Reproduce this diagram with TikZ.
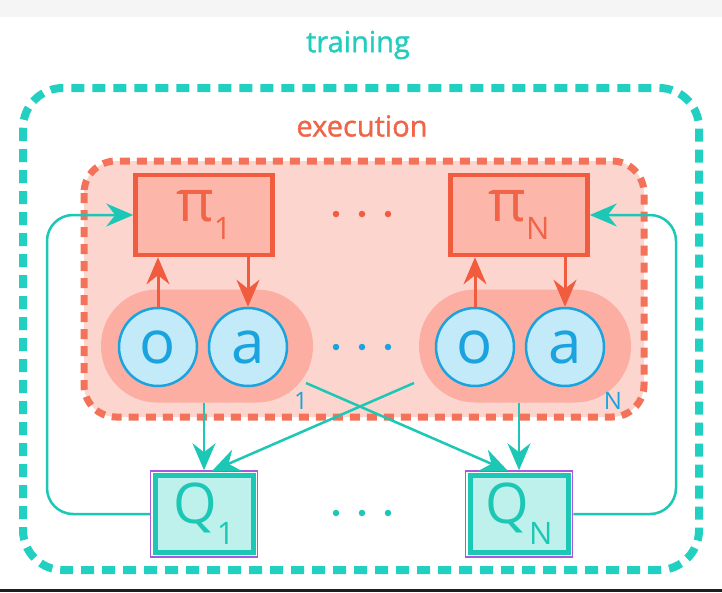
\documentclass[tikz,border=0pt]{standalone}
\usepackage{fontspec}
\setmainfont{Open Sans}
\newfontfamily\semifont{Open Sans}[FakeBold=1.2]
\usetikzlibrary{arrows.meta,calc}
\definecolor{tealtxt}{HTML}{22CDBE}
\definecolor{tealdash}{HTML}{22D0C2}
\definecolor{tealline}{HTML}{1CC8B5}
\definecolor{coraltxt}{HTML}{F06448}
\definecolor{coraldash}{HTML}{F4725A}
\definecolor{coralbox}{HTML}{F25C3E}
\definecolor{execfill}{HTML}{FDD5CF}
\definecolor{boxfill}{HTML}{FCB6AA}
\definecolor{pillfill}{HTML}{FBAEA1}
\definecolor{circfill}{HTML}{C3EAF8}
\definecolor{circline}{HTML}{1AA3DE}
\definecolor{qfill}{HTML}{BEF1EC}
\definecolor{qpurple}{HTML}{A35BE0}
\definecolor{topgray}{HTML}{F5F5F5}
\tikzset{
  outerframe/.style={draw=tealdash, line width=8pt, dash pattern=on 13pt off 8pt, rounded corners=40pt},
  execframe/.style={draw=coraldash, fill=execfill, line width=7pt, dash pattern=on 10pt off 7pt, rounded corners=32pt},
  pill/.style={fill=pillfill, rounded corners=56pt, minimum width=212pt, minimum height=113pt, inner sep=0pt},
  circ/.style={circle, draw=circline, line width=2.5pt, fill=circfill, minimum size=78pt, inner sep=0pt,
    text=circline, font=\fontsize{60}{60}\selectfont},
  pibox/.style={draw=coralbox, line width=4.5pt, fill=boxfill, minimum width=137pt, minimum height=80pt,
    inner sep=0pt, text=coraltxt},
  qouter/.style={draw=qpurple, line width=1.5pt, minimum width=107pt, minimum height=86pt, inner sep=0pt},
  qinner/.style={draw=tealline, line width=5pt, fill=qfill, minimum width=98pt, minimum height=77pt,
    inner sep=0pt, text=tealline},
  carrow/.style={draw=coralbox, line width=3pt, -{Stealth[length=27pt,width=23pt,inset=9pt]}},
  tarrow/.style={draw=tealline, line width=2.5pt, -{Stealth[length=27pt,width=23pt,inset=9pt]}},
  dotc/.style={circle, fill=#1, minimum size=6.5pt, inner sep=0pt},
}
\begin{document}
\begin{tikzpicture}[x=1pt,y=-1pt]
\useasboundingbox (0,0) rectangle (722,592);
\fill[white] (0,0) rectangle (722,592);
\fill[topgray] (0,0) rectangle (722,17);
\fill[black!88] (0,589) rectangle (722,592);

% frames
\draw[outerframe] (23,88) rectangle (699,570);
\node[text=tealtxt, font=\semifont\fontsize{29}{29}\selectfont] (training) at (358,45) {training};
\draw[execframe] (84,161) rectangle (644,417);
\node[text=coraltxt, font=\semifont\fontsize{29}{29}\selectfont] (execution) at (362,126) {execution};

% agent groups
\node[pill] (g1) at (207,346) {};
\node[pill] (gN) at (525,346) {};
\node[circ] (o1) at (158,347) {o};
\node[circ] (a1) at (248,347) {a};
\node[circ] (oN) at (475,347) {o};
\node[circ] (aN) at (565,347) {a};
\node[text=circline, font=\fontsize{24}{24}\selectfont] (l1) at (301,401) {1};
\node[text=circline, font=\fontsize{24}{24}\selectfont] (lN) at (613,401) {N};

% policies
\node[pibox] (p1) at (204,215) {\fontsize{58}{58}\selectfont π\raisebox{-18pt}{\fontsize{31}{31}\selectfont 1}};
\node[pibox] (pN) at (519,215) {\fontsize{58}{58}\selectfont π\raisebox{-18pt}{\fontsize{31}{31}\selectfont N}};

% dots
\foreach \i/\x in {1/336,2/362,3/388} {
  \node[dotc=coralbox] (cd\i) at (\x,214) {};
  \node[dotc=circline] (bd\i) at (\x,347) {};
  \node[dotc=tealline] (td\i) at (\x,513) {};
}

% coral arrows
\draw[carrow] (o1.north) -- (o1.north |- p1.south);
\draw[carrow] (a1.north |- p1.south) -- (a1.north);
\draw[carrow] (oN.north) -- (oN.north |- pN.south);
\draw[carrow] (aN.north |- pN.south) -- (aN.north);

% critics
\node[qouter] (q1o) at (204,514) {};
\node[qinner] (q1) at (204,514) {\fontsize{56}{56}\selectfont Q\raisebox{-21pt}{\fontsize{31}{31}\selectfont 1}};
\node[qouter] (qNo) at (519,514) {};
\node[qinner] (qN) at (519,514) {\fontsize{56}{56}\selectfont Q\raisebox{-21pt}{\fontsize{31}{31}\selectfont N}};

% teal connectors
\coordinate (c1) at (306,383);
\coordinate (cN) at (414,383);
\coordinate (e1) at (212,471);
\coordinate (eN) at (508,471);
\draw[tarrow] (q1o.north |- g1.south) -- (q1o.north);
\draw[tarrow] (qNo.north |- gN.south) -- (qNo.north);
\draw[tarrow] (c1) -- (eN);
\draw[tarrow] (cN) -- (e1);
\coordinate (lx) at (47,0);
\coordinate (rx) at (676,0);
\draw[tarrow, rounded corners=26pt] (q1o.west) -- (q1o.west -| lx) -- (p1.west -| lx) -- (p1.west);
\draw[tarrow, rounded corners=26pt] (qNo.east) -- (qNo.east -| rx) -- (pN.east -| rx) -- (pN.east);
\end{tikzpicture}
\end{document}
